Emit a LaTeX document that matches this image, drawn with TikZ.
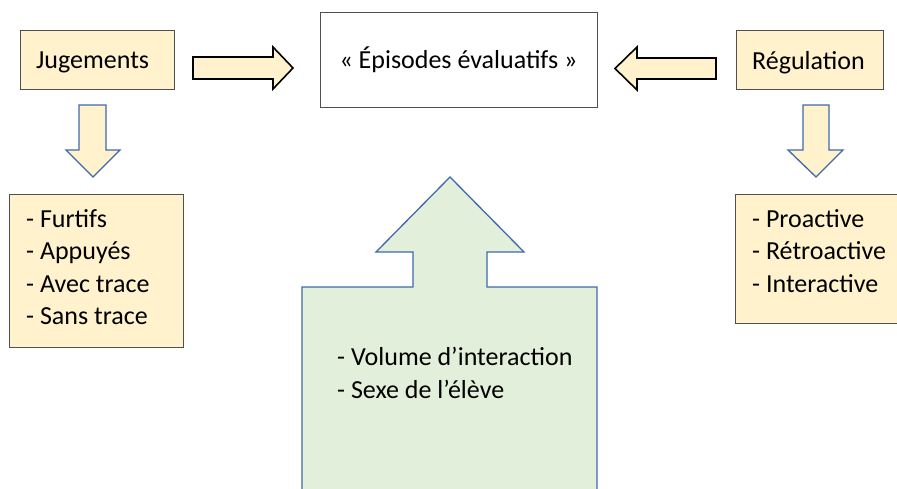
\documentclass[tikz,border=0pt]{standalone}
\usepackage{fontspec}
\setmainfont{Carlito}
\definecolor{beige}{HTML}{FFF2CC}
\definecolor{lgreen}{HTML}{E2EFDA}
\definecolor{bblue}{HTML}{4068AC}
\definecolor{bgray}{HTML}{505050}
\begin{document}
\begin{tikzpicture}[x=1pt,y=-1pt,
  txt/.style={font=\fontsize{26}{31}\selectfont, inner sep=0pt, anchor=base west},
  beigebox/.style={draw=bgray, fill=beige, line width=1pt},
  blackarrow/.style={draw=black, fill=beige, line width=1.6pt, line join=miter},
  bluearrow/.style={draw=bblue, fill=beige, line width=1.3pt, line join=miter},
  greenarrow/.style={draw=bblue, fill=lgreen, line width=1.3pt, line join=miter}]
\useasboundingbox (0,0) rectangle (897,488);
% boxes
\draw[beigebox] (20,30) rectangle (174,89);
\node[txt] (jug) at (36,68) {Jugements};
\draw[draw=bgray, line width=0.9pt, fill=white] (320,12) rectangle (597,107);
\node[font=\fontsize{26}{31}\selectfont, inner sep=0pt] (epi) at (458.5,60) {« Épisodes évaluatifs »};
\draw[beigebox] (736,30) rectangle (883,89);
\node[txt] (reg) at (752,69) {Régulation};
% left list
\draw[beigebox] (9,194) rectangle (183,347);
\node[txt] (l1) at (26,227) {- Furtifs};
\node[txt] (l2) at (26,259.5) {- Appuyés};
\node[txt] (l3) at (26,292) {- Avec trace};
\node[txt] (l4) at (26,324.5) {- Sans trace};
% right list
\draw[beigebox] (735,194) rectangle (905,323);
\node[txt] (r1) at (752,227) {- Proactive};
\node[txt] (r2) at (752,259.5) {- Rétroactive};
\node[txt] (r3) at (752,292) {- Interactive};
% block arrows
\draw[blackarrow] (193,57) -- (273,57) -- (273,47) -- (293,68) -- (273,89) -- (273,79) -- (193,79) -- cycle;
\draw[blackarrow] (716,58) -- (637,58) -- (637,47) -- (615,68.5) -- (637,90) -- (637,79) -- (716,79) -- cycle;
\draw[bluearrow] (79,105) -- (106,105) -- (106,150) -- (120,150) -- (93,177) -- (66,150) -- (79,150) -- cycle;
\draw[bluearrow] (803,105) -- (829,105) -- (829,150) -- (843,150) -- (816,177) -- (788,150) -- (803,150) -- cycle;
% green arrow
\draw[greenarrow] (302,495) -- (302,287) -- (413,287) -- (413,252) -- (376,252) -- (450,177) -- (524,252) -- (487,252) -- (487,287) -- (597,287) -- (597,495);
\node[txt] (g1) at (337,365) {- Volume d’interaction};
\node[txt] (g2) at (337,398.5) {- Sexe de l’élève};
\end{tikzpicture}
\end{document}
